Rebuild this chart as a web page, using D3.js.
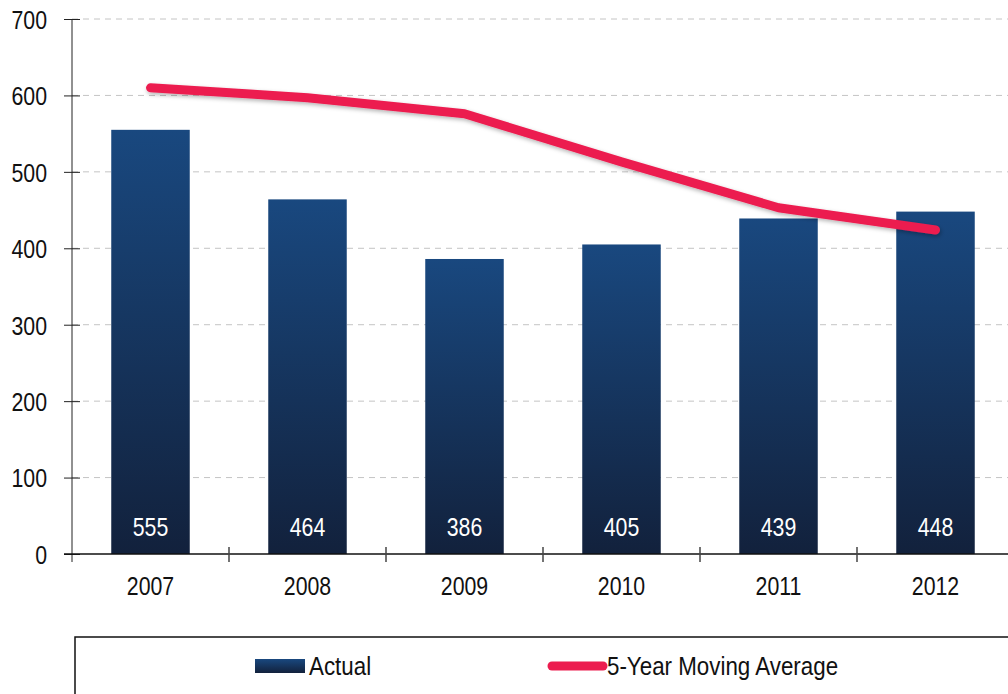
<!DOCTYPE html>
<html><head><meta charset="utf-8">
<script src="https://cdn.jsdelivr.net/npm/d3@7/dist/d3.min.js"></script>
<style>
html,body{margin:0;padding:0;background:#fff;}
svg{display:block;}
text{font-family:"Liberation Sans",Arial,sans-serif;}
</style></head>
<body>
<svg id="chart" width="1008" height="694"></svg>
<script>
const categories = ["2007","2008","2009","2010","2011","2012"];
const actual = [555, 464, 386, 405, 439, 448];
const movingAvg = [610, 597, 576, 513, 453, 424];
const yTicks = [0,100,200,300,400,500,600,700];
const legendLabels = ["Actual","5-Year Moving Average"];

const svg = d3.select("#chart");
const W = 1008, H = 694;
const SX = 0.82; // narrow-font emulation
const FS = 26;
const x = d3.scaleBand().domain(categories).range([72, 1014]).paddingInner(0.5).paddingOuter(0.25);
const y = d3.scaleLinear().domain([0,700]).range([554, 19]);

function ntext(g, tx, ty, str, anchor, fill, sx) {
  return g.append("text")
    .attr("transform",`translate(${tx},${ty}) scale(${sx||SX},1)`)
    .attr("text-anchor",anchor).attr("dy","0.36em")
    .attr("font-size",FS).attr("fill",fill).text(str);
}

const defs = svg.append("defs");
const grad = defs.append("linearGradient").attr("id","barGrad").attr("x1",0).attr("y1",0).attr("x2",0).attr("y2",1);
grad.append("stop").attr("offset","0%").attr("stop-color","#19487f");
grad.append("stop").attr("offset","100%").attr("stop-color","#12213c");
const gradL = defs.append("linearGradient").attr("id","legGrad").attr("x1",0).attr("y1",0).attr("x2",0).attr("y2",1);
gradL.append("stop").attr("offset","0%").attr("stop-color","#19487f");
gradL.append("stop").attr("offset","100%").attr("stop-color","#12213c");
const f = defs.append("filter").attr("id","shadow").attr("x","-10%").attr("y","-50%").attr("width","120%").attr("height","200%");
f.append("feDropShadow").attr("dx",1).attr("dy",2).attr("stdDeviation",2).attr("flood-color","#000").attr("flood-opacity",0.3);

// gridlines
svg.append("g").selectAll("line").data(yTicks.filter(d=>d>0)).join("line")
  .attr("x1",72).attr("x2",W).attr("y1",d=>y(d)).attr("y2",d=>y(d))
  .attr("stroke","#c4c4c4").attr("stroke-width",1).attr("stroke-dasharray","6,5");

// bars
const bw = x.bandwidth();
svg.append("g").selectAll("rect").data(actual).join("rect")
  .attr("x",(d,i)=>x(categories[i])).attr("width",bw)
  .attr("y",d=>y(d)).attr("height",d=>y(0)-y(d))
  .attr("fill","url(#barGrad)");

// value labels
const vl = svg.append("g");
actual.forEach((d,i)=>ntext(vl, x(categories[i])+bw/2, y(0)-27, d, "middle", "#fff"));

// y axis
const yAxis = d3.axisLeft(y).tickValues(yTicks).tickSize(8).tickFormat(d3.format("d"));
const gy = svg.append("g").attr("transform","translate(72,0)").call(yAxis);
gy.select(".domain").attr("d","M0,19V562").attr("stroke","#222");
gy.selectAll(".tick line").attr("x1",-8).attr("x2",8).attr("stroke","#222");
gy.selectAll(".tick text").attr("x",null).attr("dy","0.36em")
  .attr("transform",`translate(-25,0) scale(${SX},1)`)
  .attr("font-size",FS).attr("fill","#111");

// x axis
const xTickPos = d3.range(categories.length).map(i=>x.step()*i+72);
const gx = svg.append("g");
gx.append("line").attr("x1",64).attr("x2",W).attr("y1",y(0)).attr("y2",y(0)).attr("stroke","#111").attr("stroke-width",1.5);
gx.selectAll("line.t").data(xTickPos.slice(1)).join("line").attr("class","t")
  .attr("x1",d=>d).attr("x2",d=>d).attr("y1",y(0)-7).attr("y2",y(0)+8).attr("stroke","#444").attr("stroke-width",1.5);
const xAxis = d3.axisBottom(x).tickSize(0);
const gxa = svg.append("g").attr("transform",`translate(0,${y(0)})`).call(xAxis);
gxa.select(".domain").remove();
gxa.selectAll(".tick text").attr("y",null).attr("dy","0.36em")
  .attr("transform",`translate(0,32) scale(${SX},1)`)
  .attr("font-size",FS).attr("fill","#111");

// line
const line = d3.line().x((d,i)=>x(categories[i])+bw/2).y(d=>y(d));
svg.append("path").datum(movingAvg).attr("d",line).attr("fill","none")
  .attr("stroke","#ec1c4f").attr("stroke-width",9).attr("stroke-linecap","round").attr("stroke-linejoin","round")
  .attr("filter","url(#shadow)");

// legend
const lg = svg.append("g");
lg.append("path").attr("d",`M75,${H+2}V637H${W+2}`).attr("fill","none").attr("stroke","#111").attr("stroke-width",1.5);
lg.append("rect").attr("x",255).attr("y",659).attr("width",50).attr("height",14).attr("fill","url(#legGrad)");
ntext(lg, 309, 666, legendLabels[0], "start", "#111", 0.86);
lg.append("line").attr("x1",552).attr("x2",603).attr("y1",666).attr("y2",666).attr("stroke","#ec1c4f").attr("stroke-width",9).attr("stroke-linecap","round");
ntext(lg, 607, 666, legendLabels[1], "start", "#111", 0.86);
</script>
</body></html>
